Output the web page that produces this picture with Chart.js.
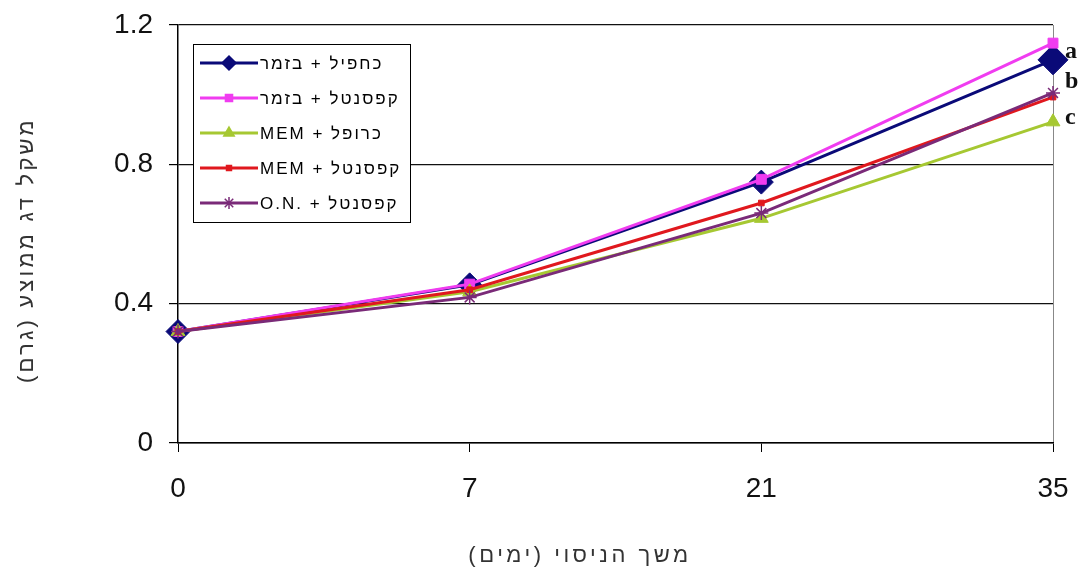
<!DOCTYPE html>
<html>
<head>
<meta charset="utf-8">
<script src="https://cdn.jsdelivr.net/npm/chart.js@4.4.0/dist/chart.umd.min.js"></script>
<style>
html,body{margin:0;padding:0;background:#fff;}
#wrap{width:1083px;height:570px;position:relative;}
</style>
</head>
<body>
<div id="wrap"><canvas id="c" width="1083" height="570"></canvas></div>
<script>
// ---- data ----
const categories = ['0', '7', '21', '35'];
const seriesLabels = ['כחפיל + בזמר', 'קפסנטל + בזמר', 'MEM + כרופל', 'MEM + קפסנטל', 'O.N. + קפסנטל'];
const series1 = [0.32, 0.454, 0.749, 1.10];
const series2 = [0.32, 0.456, 0.757, 1.148];
const series3 = [0.32, 0.434, 0.645, 0.922];
const series4 = [0.32, 0.440, 0.689, 0.993];
const series5 = [0.32, 0.418, 0.660, 1.005];
const yTickLabels = ['0', '0.4', '0.8', '1.2'];
const yTickValues = [0, 0.4, 0.8, 1.2];
const endLetters = ['a', 'b', 'c'];
const endLetterValues = [1.122, 1.036, 0.933];
const xTitle = 'משך הניסוי (ימים)';
const yTitle = 'משקל דג ממוצע (גרם)';

const colors = ['#0a0a78', '#f03cf0', '#a6c832', '#e0181e', '#7a2a78'];
const styles = ['rectRot', 'rect', 'triangle', 'rect', 'star'];
const radii = [12, 7, 8, 4, 7];
const legendRadii = [7, 5, 6, 3.5, 6];
const allSeries = [series1, series2, series3, series4, series5];

const datasets = allSeries.map((d, i) => ({
  label: seriesLabels[i],
  data: d,
  borderColor: colors[i],
  backgroundColor: colors[i],
  pointBackgroundColor: colors[i],
  pointBorderColor: colors[i],
  pointStyle: styles[i],
  pointRadius: i === 0 ? [12, 12, 12, 15] : radii[i],
  pointBorderWidth: styles[i] === 'star' ? 1.5 : 1,
  borderWidth: 3,
  tension: 0,
  order: 4 - i
}));

const FONT = '"Liberation Sans", Arial, sans-serif';

const legendPlugin = {
  id: 'boxLegend',
  afterDatasetsDraw(chart) {
    const ctx = chart.ctx;
    const ca = chart.chartArea;
    const x0 = ca.left + 15, y0 = ca.top + 19, w = 217, h = 178;
    ctx.save();
    ctx.fillStyle = '#ffffff';
    ctx.strokeStyle = '#000000';
    ctx.lineWidth = 1;
    ctx.fillRect(x0, y0, w, h);
    ctx.strokeRect(x0 + 0.5, y0 + 0.5, w, h);
    ctx.font = '17px ' + FONT;
    if ('letterSpacing' in ctx) ctx.letterSpacing = '2px';
    ctx.textBaseline = 'middle';
    ctx.textAlign = 'left';
    chart.data.datasets.forEach((ds, i) => {
      const cy = y0 + 19 + i * 35;
      ctx.strokeStyle = ds.borderColor;
      ctx.lineWidth = 3;
      ctx.beginPath();
      ctx.moveTo(x0 + 7, cy);
      ctx.lineTo(x0 + 65, cy);
      ctx.stroke();
      ctx.fillStyle = ds.borderColor;
      ctx.strokeStyle = ds.borderColor;
      ctx.lineWidth = 1.5;
      Chart.helpers.drawPoint(ctx, {pointStyle: ds.pointStyle, radius: legendRadii[i], rotation: 0, borderWidth: 1.5}, x0 + 36, cy);
      ctx.fillStyle = '#000';
      ctx.fillText(ds.label, x0 + 67, cy + 1);
    });
    ctx.restore();
  }
};

const textPlugin = {
  id: 'extraText',
  afterDraw(chart) {
    const ctx = chart.ctx;
    const ys = chart.scales.y;
    const ca = chart.chartArea;
    ctx.save();
    ctx.font = 'bold 24px "Liberation Serif", "Times New Roman", serif';
    ctx.fillStyle = '#111';
    ctx.textAlign = 'left';
    ctx.textBaseline = 'middle';
    endLetters.forEach((t, i) => {
      ctx.fillText(t, ca.right + 12, ys.getPixelForValue(endLetterValues[i]));
    });
    // axis titles
    ctx.font = '22px ' + FONT;
    ctx.fillStyle = '#333';
    ctx.textAlign = 'center';
    ctx.textBaseline = 'middle';
    if ('letterSpacing' in ctx) ctx.letterSpacing = '3.5px';
    ctx.fillText(xTitle, 580, 556);
    if ('letterSpacing' in ctx) ctx.letterSpacing = '3.2px';
    ctx.translate(27, 250);
    ctx.rotate(-Math.PI / 2);
    ctx.fillText(yTitle, 0, 0);
    ctx.restore();
  }
};

new Chart(document.getElementById('c'), {
  type: 'line',
  data: { labels: categories, datasets },
  plugins: [legendPlugin, textPlugin],
  options: {
    responsive: false,
    animation: false,
    layout: { padding: { left: 0, right: 30, top: 25, bottom: 0 } },
    plugins: { legend: { display: false }, tooltip: { enabled: false } },
    scales: {
      x: {
        type: 'category',
        offset: false,
        afterFit: s => { s.height = 127; s.paddingLeft = 0; s.paddingRight = 0; },
        border: { display: true, color: '#000', width: 1.5 },
        grid: {
          color: c => (c.index === categories.length - 1 ? '#888' : 'rgba(0,0,0,0)'),
          tickColor: '#000',
          tickLength: 9,
          drawTicks: true
        },
        ticks: {
          color: '#111',
          padding: 20,
          maxRotation: 0,
          font: { family: FONT, size: 28 }
        }
      },
      y: {
        min: 0,
        max: 1.2,
        afterFit: s => { s.width = 178; s.paddingTop = 0; s.paddingBottom = 0; },
        afterBuildTicks: s => { s.ticks = yTickValues.map(v => ({ value: v })); },
        border: { display: true, color: '#000', width: 1.5 },
        grid: { color: '#111', lineWidth: 1.2, tickColor: '#000', tickLength: 9 },
        ticks: {
          color: '#111',
          padding: 16,
          callback: (v, i) => yTickLabels[i],
          font: { family: FONT, size: 28 }
        }
      }
    }
  }
});
</script>
</body>
</html>
